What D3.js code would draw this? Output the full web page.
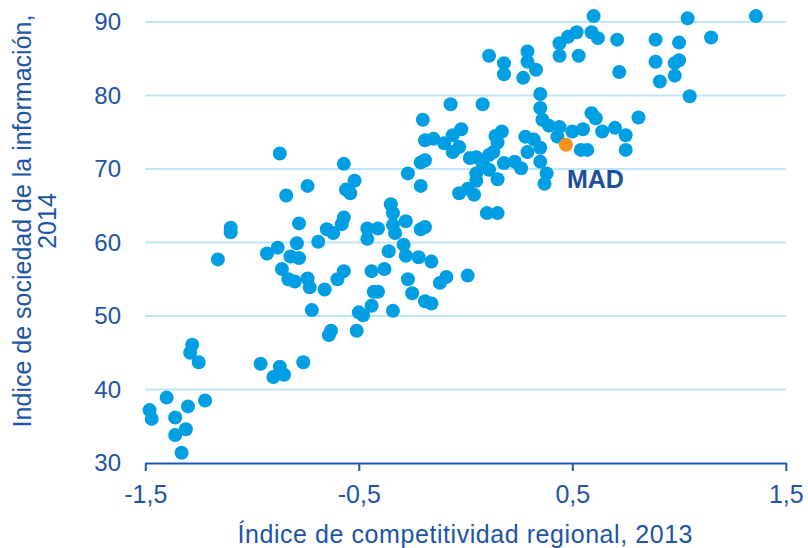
<!DOCTYPE html>
<html>
<head>
<meta charset="utf-8">
<script src="https://cdn.jsdelivr.net/npm/d3@7"></script>
<style>
  html, body { margin: 0; padding: 0; background: #ffffff; }
  svg { display: block; font-family: "Liberation Sans", Arial, sans-serif; }
</style>
</head>
<body>
<svg id="chart" width="808" height="548"></svg>
<script>
// Regional competitiveness index 2013 (x) vs information society index 2014 (y)
const regionX = [
  -1.48,-1.47,-1.40,-1.36,-1.30,-1.22,-1.31,-1.36,-1.33,-1.28,-1.29,-1.25,
  -0.96,-0.87,-0.90,-0.85,-0.76,-0.64,-0.63,-0.51,-0.72,-0.50,-0.48,
  -1.10,-1.10,-1.16,-0.93,-0.88,-0.79,-0.82,-0.78,-0.78,-0.69,-0.65,-0.62,-0.57,-0.58,
  -0.86,-0.83,-0.80,-0.74,-0.73,-0.66,-0.60,-0.57,
  -0.87,-0.84,-0.74,-0.57,-0.52,-0.56,-0.54,
  -0.35,-0.34,-0.28,-0.34,-0.33,-0.41,-0.46,-0.46,-0.21,-0.19,
  -0.36,-0.29,-0.28,-0.22,-0.16,-0.44,-0.38,-0.27,-0.12,-0.09,0.01,
  -0.43,-0.41,-0.25,-0.19,-0.16,-0.44,-0.34,
  -0.21,-0.27,-0.19,-0.21,-0.03,0.01,0.04,0.05,0.15,0.05,0.11,
  0.02,0.05,0.08,0.11,0.13,0.18,0.23,0.26,0.10,0.15,
  -0.20,-0.07,0.08,-0.19,-0.15,-0.06,-0.02,-0.10,-0.03,-0.06,0.14,0.17,0.15,
  0.11,0.18,0.18,0.29,0.29,0.33,0.27,
  0.28,0.32,0.35,0.29,0.35,0.38,0.37,0.35,0.35,0.36,0.39,0.44,0.43,
  0.44,0.48,0.52,0.44,0.53,0.60,0.59,0.62,0.71,0.89,1.00,1.15,1.04,1.36,
  0.72,0.89,0.98,1.00,0.98,0.91,1.05,0.59,0.61,0.81,
  0.50,0.55,0.64,0.70,0.75,0.54,0.57,0.75
];
const regionY = [
  37.2,36.0,38.9,36.2,37.7,38.5,34.6,33.8,31.4,46.1,45.0,43.7,
  43.5,43.1,41.7,42.0,43.7,47.4,48.0,48.0,50.8,50.5,50.1,
  62.0,61.4,57.7,58.5,59.3,59.9,58.1,57.9,62.6,60.1,61.8,61.3,63.4,62.5,
  56.4,55.0,54.7,55.1,53.9,53.6,55.0,56.1,
  72.1,66.4,67.7,70.7,68.4,67.2,66.7,
  65.2,64.0,62.9,62.4,61.3,61.9,61.9,60.5,61.8,62.1,
  58.8,59.7,58.2,58.0,57.4,56.1,56.4,55.0,54.5,55.3,55.5,
  53.3,53.3,53.1,52.0,51.7,51.4,50.7,
  67.7,69.4,71.2,70.9,66.7,67.3,66.5,68.4,68.6,69.4,69.9,
  71.5,71.6,70.8,71.9,72.3,70.8,71.0,70.1,64.0,64.0,
  76.7,78.8,78.8,73.9,74.1,74.6,75.4,73.5,73.0,72.3,74.5,75.1,73.6,
  85.4,84.4,82.9,86.0,84.6,83.5,82.4,
  74.4,74.0,72.9,72.3,71.0,69.4,68.0,80.2,78.3,76.7,75.9,75.7,74.4,
  87.1,88.0,88.6,85.4,85.4,90.8,88.6,87.8,87.6,87.6,87.2,87.9,90.5,90.8,
  83.2,84.6,84.4,84.8,82.7,81.9,79.9,77.6,76.9,77.0,
  75.1,75.4,75.1,75.6,74.6,72.6,72.6,72.6
];
const highlightLabel = ["MAD"];
const highlightX = [0.47];
const highlightY = [73.3];

const xTicks = [-1.5, -0.5, 0.5, 1.5];
const xTickLabels = ["-1,5", "-0,5", "0,5", "1,5"];
const yTicks = [30, 40, 50, 60, 70, 80, 90];
const yTickLabels = ["30", "40", "50", "60", "70", "80", "90"];
const xTitle = "Índice de competitividad regional, 2013";
const yTitleLines = ["Indice de sociedad de la información,", "2014"];

const textColor = "#2054a6";
const dotColor = "#009fe3";
const hiColor = "#f7901e";
const gridColor = "#bfe6f8";

const svg = d3.select("#chart");
const x = d3.scaleLinear().domain([-1.5, 1.5]).range([145.3, 785.8]);
const y = d3.scaleLinear().domain([30, 90]).range([463, 22]);

// gridlines
svg.append("g").selectAll("line")
  .data(yTicks.filter(d => d > 30))
  .join("line")
  .attr("x1", x(-1.5)).attr("x2", x(1.5))
  .attr("y1", d => y(d)).attr("y2", d => y(d))
  .attr("stroke", gridColor).attr("stroke-width", 2);

// x axis
const xAxis = d3.axisBottom(x)
  .tickValues(xTicks)
  .tickFormat((d, i) => xTickLabels[i])
  .tickSize(8)
  .tickPadding(14)
  .tickSizeOuter(0);
const gx = svg.append("g").attr("transform", `translate(0,${y(30)})`).call(xAxis);
gx.select(".domain").attr("stroke", "#1a56b0").attr("stroke-width", 2.2);
gx.selectAll(".tick line").attr("stroke", "#1a56b0").attr("stroke-width", 2);
gx.selectAll(".tick text")
  .attr("fill", textColor)
  .style("font-size", "25px")
  .style("font-family", "'Liberation Sans', Arial, sans-serif");

// y axis (labels only)
const yAxis = d3.axisLeft(y)
  .tickValues(yTicks)
  .tickFormat((d, i) => yTickLabels[i])
  .tickSize(0)
  .tickPadding(0);
const gy = svg.append("g").attr("transform", "translate(121,0)").call(yAxis);
gy.select(".domain").remove();
gy.selectAll(".tick text")
  .attr("fill", textColor)
  .style("font-size", "24px")
  .style("font-family", "'Liberation Sans', Arial, sans-serif");

// titles
svg.append("text")
  .attr("x", 465).attr("y", 543)
  .attr("text-anchor", "middle")
  .attr("fill", textColor)
  .style("font-size", "25px")
  .attr("textLength", 455)
  .attr("lengthAdjust", "spacing")
  .text(xTitle);

const yt = svg.append("text")
  .attr("transform", "translate(0,221) rotate(-90)")
  .attr("text-anchor", "middle")
  .attr("fill", textColor)
  .style("font-size", "25px");
yt.selectAll("tspan").data(yTitleLines).join("tspan")
  .attr("x", 0)
  .attr("y", (d, i) => i === 0 ? 31 : 56)
  .text(d => d);

// points
const pts = regionX.map((v, i) => ({x: v, y: regionY[i]}));
svg.append("g").selectAll("circle")
  .data(pts)
  .join("circle")
  .attr("cx", d => x(d.x))
  .attr("cy", d => y(d.y))
  .attr("r", 7)
  .attr("fill", dotColor);

const hi = highlightX.map((v, i) => ({x: v, y: highlightY[i], label: highlightLabel[i]}));
svg.append("g").selectAll("circle")
  .data(hi)
  .join("circle")
  .attr("cx", d => x(d.x))
  .attr("cy", d => y(d.y))
  .attr("r", 7)
  .attr("fill", hiColor);

svg.append("g").selectAll("text")
  .data(hi)
  .join("text")
  .attr("x", d => x(d.x) + 1)
  .attr("y", d => y(d.y) + 43)
  .attr("fill", "#1b4f9c")
  .style("font-size", "25px")
  .style("font-weight", "bold")
  .text(d => d.label);
</script>
</body>
</html>
